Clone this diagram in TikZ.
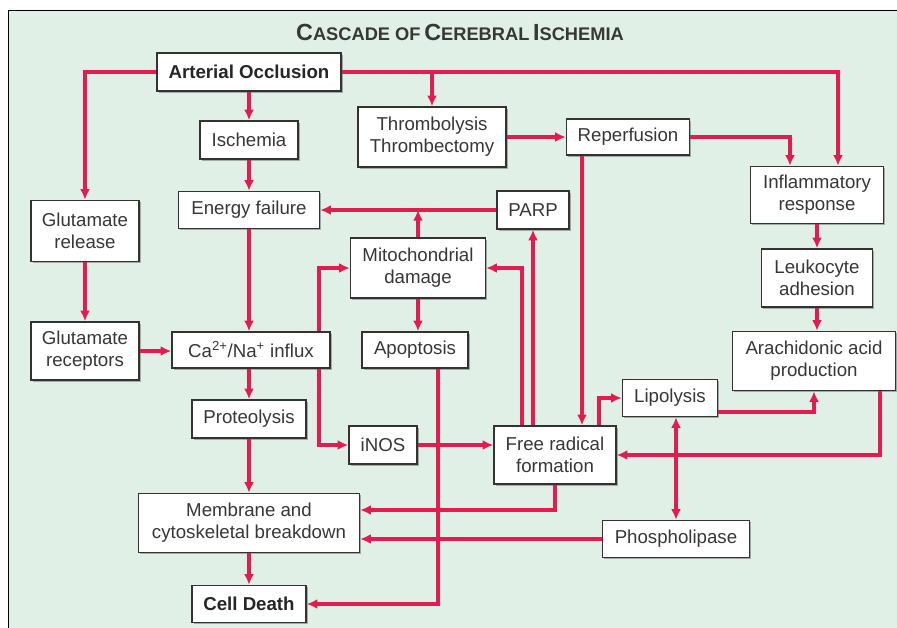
\documentclass[tikz,border=0pt]{standalone}
\usepackage{fontspec}
\setmainfont{Liberation Sans}
\usetikzlibrary{arrows.meta,shadows,positioning}
\definecolor{bgcol}{RGB}{224,240,230}
\definecolor{linkcol}{RGB}{226,28,78}
\definecolor{txtcol}{RGB}{55,55,55}
\tikzstyle{box} = [rectangle, draw=black!80, line width=1.1pt, fill=white, text=txtcol, align=center, inner sep=1pt, font=\fontsize{14}{16.3}\selectfont, drop shadow={shadow xshift=1.4pt, shadow yshift=-1.4pt, fill=black!60, opacity=0.5}]
\tikzstyle{boldbox} = [box, text=black!85, font=\fontsize{14}{16.3}\selectfont\bfseries]
\tikzstyle{link} = [draw=linkcol, line width=2.3pt, -{Latex[length=8pt,width=7.5pt]}]
\newcommand{\capsc}[2]{{\fontsize{17.5}{20}\selectfont #1}{\fontsize{13.7}{16}\selectfont #2}}
\begin{document}
\begin{tikzpicture}[x=0.75pt, y=-0.75pt]
      \useasboundingbox (0,0) rectangle (897,628);
      \fill[bgcol] (9,11) rectangle (897,628);
      \draw[line width=1.2pt] (8.5,628) -- (8.5,10.5) -- (897,10.5);
      \node (title) at (460,32) {\bfseries\color{txtcol}\capsc{C}{ASCADE OF} \capsc{C}{EREBRAL} \capsc{I}{SCHEMIA}};
      % main column
      \node (ao)[boldbox, minimum width=138pt, minimum height=28.5pt] at (249,72) {Arterial Occlusion};
      \node (isc)[box, minimum width=73.5pt, minimum height=28.5pt] at (249,140) {Ischemia};
      \node (ef)[box, minimum width=105.75pt, minimum height=27.75pt] at (249,210) {Energy failure};
      \node (ca)[box, minimum width=118.5pt, minimum height=27pt] at (251,350) {Ca\textsuperscript{2+}/Na\textsuperscript{+} influx};
      \node (prot)[box, minimum width=85.5pt, minimum height=28.5pt] at (249,419) {Proteolysis};
      \node (mem)[box, minimum width=165.75pt, minimum height=44.25pt] at (249,523) {Membrane and\\cytoskeletal breakdown};
      \node (cd)[boldbox, minimum width=85.5pt, minimum height=27.75pt] at (249,604) {Cell Death};
      % left column
      \node (glr)[box, minimum width=81pt, minimum height=45.75pt] at (85,231) {Glutamate\\release};
      \node (glrec)[box, minimum width=81pt, minimum height=43.5pt] at (85,351) {Glutamate\\receptors};
      % middle
      \node (thr)[box, minimum width=111pt, minimum height=45pt] at (432,137) {Thrombolysis\\Thrombectomy};
      \node (parp)[box, minimum width=54pt, minimum height=28.5pt] at (533,210) {PARP};
      \node (mito)[box, minimum width=101.25pt, minimum height=45pt] at (418,268) {Mitochondrial\\damage};
      \node (apo)[box, minimum width=79.5pt, minimum height=27pt] at (415,350) {Apoptosis};
      \node (inos)[box, minimum width=51pt, minimum height=28.5pt] at (383,445) {iNOS};
      \node (frf)[box, minimum width=91.5pt, minimum height=43.5pt] at (555,455) {Free radical\\formation};
      \node (rep)[box, minimum width=92.25pt, minimum height=27pt] at (628,137) {Reperfusion};
      \node (lip)[box, minimum width=71.25pt, minimum height=27.75pt] at (670,398) {Lipolysis};
      \node (pho)[box, minimum width=110.25pt, minimum height=27.75pt] at (676,539) {Phospholipase};
      % right column
      \node (inf)[box, minimum width=99.75pt, minimum height=42.75pt] at (817,195) {Inflammatory\\response};
      \node (leu)[box, minimum width=83.25pt, minimum height=43.5pt] at (817,278) {Leukocyte\\adhesion};
      \node (ara)[box, minimum width=122.25pt, minimum height=44.25pt] at (814,361) {Arachidonic acid\\production};
      % connectors
      \draw[link] (ao.west) -| (glr.north);
      \draw[link] (ao) -- (isc);
      \draw[link] (ao.east) -| ([xshift=15.75pt]inf.north);
      \draw[link] (ao.east -| thr.north) -- (thr.north);
      \draw[link] (isc) -- (ef);
      \draw[link] (ef.south) -- (ef.south |- ca.north);
      \draw[link] (glr) -- (glrec);
      \draw[link] (glrec.east) -- (glrec.east -| ca.west);
      \draw[link] (thr) -- (rep);
      \draw[link] (rep.east) -| ([xshift=-20.25pt]inf.north);
      \draw[link] ([xshift=-34.5pt]rep.south) -- ([xshift=-34.5pt]rep.south |- frf.north);
      \draw[link] (parp.west) -- (ef.east);
      \draw[link] (mito.north) -- (mito.north |- parp.west);
      \draw[link] (frf.north -| parp.south) -- (parp.south);
      \draw[link] ([xshift=-24.75pt]frf.north) |- (mito.east);
      \draw[link] ([xshift=51pt]ca.north) |- (mito.west);
      \draw[link] ([xshift=51pt]ca.south) |- (inos.west);
      \draw[link] (inos.east) -- (inos.east -| frf.west);
      \draw[link] (mito.south) -- (mito.south |- apo.north);
      \draw[link] ([xshift=17.25pt]apo.south) |- (cd.east);
      \draw[link] (ca.south -| prot.north) -- (prot.north);
      \draw[link] (prot) -- (mem);
      \draw[link] (mem) -- (cd);
      \draw[link] (frf.south) |- ([yshift=9.75pt]mem.east);
      \draw[link] (pho.west) -- (pho.west -| mem.east);
      \draw[link] ([xshift=33pt]frf.north) |- (lip.west);
      \draw[link, {Latex[length=8pt,width=7.5pt]}-{Latex[length=8pt,width=7.5pt]}] (lip.south -| pho.north) -- (pho.north);
      \draw[link] ([yshift=-10.5pt]lip.east) -| (ara.south);
      \draw[link] ([xshift=49.5pt]ara.south) |- (frf.east);
      \draw[link] (inf) -- (leu);
      \draw[link] (leu.south) -- (leu.south |- ara.north);
    \end{tikzpicture}
\end{document}
